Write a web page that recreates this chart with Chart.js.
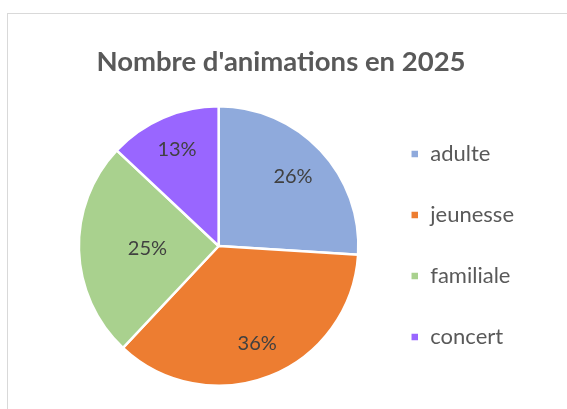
<!DOCTYPE html>
<html>
<head>
<meta charset="utf-8">
<script src="https://cdn.jsdelivr.net/npm/chart.js@4"></script>
<style>
  html, body { margin: 0; padding: 0; background: #fff; overflow: hidden; }
  .frame { position: absolute; left: 7px; top: 13px; width: 700px; height: 500px; border: 1px solid #d9d9d9; }
  .wrap { position: absolute; left: 0; top: 0; width: 567px; height: 409px; }
</style>
</head>
<body>
<div class="frame"></div>
<div class="wrap"><canvas id="pie"></canvas></div>
<script>
// data
const categories = ['adulte', 'jeunesse', 'familiale', 'concert'];
const shares = [26, 36, 25, 13];
const sliceColors = ['#8faadc', '#ed7d31', '#a9d18e', '#9966ff'];
// how far out (fraction of radius) each percent label sits, like Excel's best fit
const labelDepth = [0.73, 0.75, 0.51, 0.75];

// percent labels inside each slice
const sliceLabels = {
    id: 'sliceLabels',
    afterDatasetsDraw(chart) {
        const ctx = chart.ctx;
        const meta = chart.getDatasetMeta(0);
        const total = shares.reduce((a, b) => a + b, 0);
        ctx.save();
        ctx.font = '20px Lato, sans-serif';
        ctx.fillStyle = '#404040';
        ctx.textAlign = 'center';
        ctx.textBaseline = 'middle';
        meta.data.forEach((arc, i) => {
            const mid = (arc.startAngle + arc.endAngle) / 2;
            const r = arc.outerRadius * labelDepth[i];
            const x = arc.x + Math.cos(mid) * r;
            const y = arc.y + Math.sin(mid) * r;
            ctx.fillText(Math.round(shares[i] / total * 100) + '%', x, y);
        });
        ctx.restore();
    }
};

// center the title over the whole frame, not just the padded area
const titleSpan = {
    id: 'titleSpan',
    afterLayout(chart) {
        const t = chart.titleBlock;
        if (t) { t.left = 0; t.right = 562; t.width = 562; }
    }
};

document.addEventListener('DOMContentLoaded', () => {
    Chart.defaults.font.family = "Lato, sans-serif";
    Chart.defaults.color = '#595959';
    Chart.defaults.animation = false;

    new Chart(document.getElementById('pie'), {
        type: 'pie',
        data: {
            labels: categories,
            datasets: [{
                data: shares,
                backgroundColor: sliceColors,
                borderColor: '#ffffff',
                borderWidth: 2.5
            }]
        },
        options: {
            responsive: true,
            maintainAspectRatio: false,
            layout: { padding: { left: 66, right: 43, top: 0, bottom: 22 } },
            plugins: {
                title: {
                    display: true,
                    text: "Nombre d'animations en 2025",
                    color: '#595959',
                    font: { size: 27.5, weight: 'bold' },
                    padding: { top: 46, bottom: 26 }
                },
                legend: {
                    position: 'right',
                    align: 'end',
                    labels: {
                        boxWidth: 9,
                        boxHeight: 9,
                        padding: 39,
                        color: '#595959',
                        font: { size: 22 }
                    }
                },
                tooltip: { enabled: false }
            }
        },
        plugins: [sliceLabels, titleSpan]
    });
});
</script>
</body>
</html>
